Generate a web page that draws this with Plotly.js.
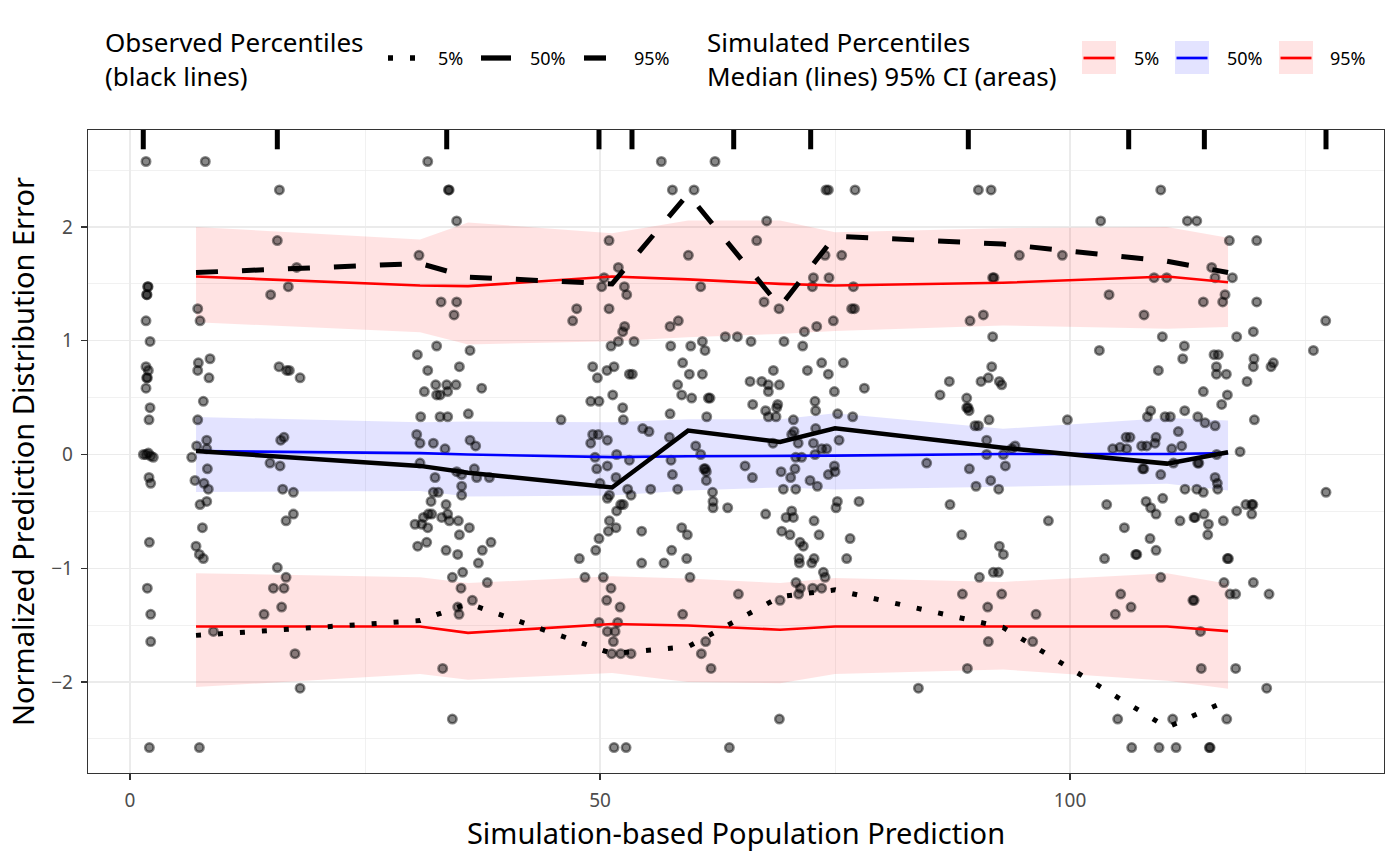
<!DOCTYPE html>
<html><head><meta charset="utf-8">
<script src="https://cdn.plot.ly/plotly-3.0.1.min.js"></script>
<style>html,body{margin:0;padding:0;background:#fff}#chart{width:1400px;height:866px}</style>
</head><body><div id="chart"></div>
<script>
// ---- observed data (npde vs simulation-based population prediction) ----
const obsX = [
 1.70,1.88,1.92,1.77,1.81,1.70,2.13,1.70,1.95,1.77,1.85,1.70,2.13,2.02,
 8.01,7.20,7.45,7.27,8.51,7.20,8.40,7.80,7.20,8.16,7.09,
 15.89,15.67,17.73,16.84,14.96,15.85,16.67,16.95,18.09,16.38,16.03,
 31.67,33.87,33.95,34.75,30.74,33.09,34.75,34.47,30.57,32.62,36.17,31.67,35.04,32.52,33.69,34.68,31.31,32.62,32.98,33.79,37.41,30.92,32.98,33.79,35.99,30.50,30.85,32.27,36.17,36.77,
 56.52,62.23,57.70,60.00,74.04,74.29,77.13,67.73,50.96,66.67,51.95,59.40,73.94,75.71,50.43,50.18,52.59,52.84,60.71,72.70,74.36,72.59,76.95,47.52,47.09,50.96,67.45,69.04,76.77,77.06,
 57.45,58.33,52.62,52.41,51.95,51.17,53.62,57.52,59.65,60.89,61.17,63.33,64.61,66.06,69.57,71.56,71.74,73.05,74.82,
 49.22,49.72,50.74,51.49,53.12,53.44,58.79,59.50,60.89,58.26,58.69,59.75,61.52,61.70,65.96,67.20,67.91,67.91,69.08,68.44,72.06,73.58,74.29,75.89,74.93,78.12,86.17,51.35,
 49.01,49.89,52.41,52.48,45.85,57.45,61.35,66.24,67.62,68.90,68.79,67.91,68.72,70.57,72.87,72.94,75.28,76.88,
 49.22,49.82,50.78,49.01,54.54,55.21,57.38,60.18,70.64,70.39,68.40,71.08,72.94,72.70,75.43,
 90.25,91.60,109.65,103.26,112.48,113.48,116.95,119.86,94.61,99.18,115.07,91.77,91.91,108.94,110.28,115.43,117.27,104.15,116.49,114.18,116.24,119.86,89.36,90.78,107.87,127.20,91.77,109.82,117.73,119.50,
 103.12,112.16,111.99,115.32,115.78,119.57,119.50,121.63,121.38,125.89,91.67,91.31,90.53,92.48,92.73,87.16,109.40,115.57,115.57,116.63,118.83,114.18,116.74,116.13,
 89.01,89.01,89.15,89.26,91.38,89.89,90.25,99.72,108.58,108.23,110.11,110.67,112.20,113.59,114.36,115.43,119.61,91.13,111.52,105.96,106.38,109.15,109.04,107.62,108.16,111.88,
 1.42,1.70,1.95,2.20,2.48,2.02,2.20,2.06,1.84,2.20,2.20,2.06,
 6.56,8.16,8.23,6.91,7.87,8.33,7.45,8.16,7.70,7.02,7.38,7.80,8.87,7.38,
 14.89,15.96,16.24,17.38,16.60,17.38,15.67,16.60,15.25,16.38,16.13,14.26,17.55,18.09,
 33.51,30.85,32.45,34.75,35.28,36.63,36.88,38.23,32.27,32.80,35.28,35.28,32.02,33.62,30.32,31.03,31.21,31.67,31.74,32.09,33.16,33.79,33.97,34.93,36.10,35.04,30.60,31.56,33.62,34.86,37.48,38.40,37.06,35.39,34.29,35.21,38.01,36.42,34.86,35.00,33.26,34.29,
 49.47,51.77,53.12,49.65,50.78,51.70,50.00,52.94,53.30,50.78,51.00,52.20,52.48,51.77,51.00,51.70,50.89,49.89,49.54,47.80,48.40,50.35,51.17,50.71,52.13,49.89,51.88,50.78,51.60,51.42,51.24,52.20,53.30,51.49,52.77,
 55.39,54.43,54.43,56.81,57.62,57.55,57.70,58.26,58.69,59.29,59.22,59.57,58.79,60.78,61.24,61.81,64.72,63.76,
 60.71,61.06,61.20,61.31,61.31,61.97,62.02,62.02,63.58,65.43,66.21,67.62,69.26,69.50,70.82,70.28,70.74,70.82,71.45,72.34,73.12,72.87,73.58,74.11,74.29,75.00,74.93,
 70.39,69.79,70.57,69.33,70.21,71.28,71.63,71.17,71.21,72.52,72.77,72.77,73.30,73.76,73.94,70.85,71.32,71.13,72.62,73.58,69.15,69.08,75.25,75.11,77.55,76.60,76.24,83.87,84.75,
 91.13,92.91,93.79,94.15,89.29,93.12,91.56,90.00,92.41,87.23,88.48,92.48,92.91,97.70,91.84,92.38,90.36,88.55,92.73,91.24,96.38,91.31,96.03,89.08,
 103.90,105.78,103.67,104.54,106.03,105.32,107.73,107.85,109.65,110.82,111.00,113.58,113.70,115.60,115.43,115.67,115.71,112.23,113.48,114.18,108.09,108.58,109.15,109.86,111.70,113.19,113.30,114.26,114.72,114.65,116.31,108.51,109.15,106.99,107.10,116.74,116.85,117.73,118.71,119.33,119.45,119.33,118.09,127.23,
 109.65,105.39,106.49,104.82,116.38,117.02,117.62,119.50,121.17,113.07,113.20,113.88,113.96,117.62,120.92,105.07,110.92,116.67,106.56,109.47,111.28,114.82,114.90
];
const obsY = [
 2.576,1.476,1.476,1.405,1.405,1.175,0.994,0.772,0.739,0.674,0.674,0.583,0.412,0.305,
 2.576,1.282,1.175,0.806,0.842,0.739,0.674,0.468,0.305,0.126,0.075,
 2.326,1.881,1.645,1.476,1.405,0.772,0.739,0.739,0.674,0.151,0.126,
 2.576,2.326,2.326,2.054,1.751,1.341,1.341,1.227,0.878,0.954,0.915,0.739,0.772,0.613,0.613,0.613,0.553,0.524,0.524,0.553,0.583,0.332,0.332,0.332,0.358,0.176,0.100,0.100,0.126,0.075,
 2.576,2.576,2.326,2.326,2.326,2.326,2.326,2.054,1.881,1.881,1.645,1.751,1.751,1.751,1.555,1.476,1.476,1.405,1.476,1.555,1.555,1.476,1.476,1.282,1.175,1.282,1.341,1.282,1.282,1.282,
 1.126,1.175,1.126,1.080,0.994,0.954,0.994,0.954,0.954,0.994,0.915,1.036,1.036,0.994,0.994,0.954,1.080,1.126,1.175,
 0.772,0.674,0.739,0.772,0.706,0.706,0.806,0.706,0.706,0.613,0.524,0.496,0.496,0.496,0.643,0.643,0.613,0.553,0.613,0.739,0.739,0.806,0.706,0.806,0.553,0.583,0.524,0.524,
 0.468,0.468,0.412,0.305,0.305,0.358,0.332,0.440,0.385,0.440,0.412,0.332,0.332,0.305,0.468,0.385,0.358,0.332,
 0.176,0.176,0.126,0.100,0.228,0.202,0.151,0.075,0.202,0.176,0.100,0.100,0.228,0.100,0.126,
 2.326,2.326,2.326,2.054,2.054,2.054,1.881,1.881,1.751,1.751,1.645,1.555,1.555,1.555,1.555,1.555,1.555,1.405,1.405,1.341,1.341,1.341,1.175,1.227,1.227,1.175,1.036,1.036,1.036,1.080,
 0.915,0.954,0.842,0.878,0.878,0.842,0.772,0.806,0.772,0.915,0.772,0.674,0.643,0.643,0.613,0.643,0.739,0.772,0.706,0.706,0.643,0.553,0.524,0.440,
 0.496,0.412,0.412,0.385,0.305,0.253,0.253,0.305,0.385,0.332,0.332,0.332,0.385,0.332,0.279,0.253,0.305,0.126,0.202,0.151,0.151,0.151,0.100,0.075,0.075,0.075,
 0.000,0.000,0.013,-0.013,-0.025,-0.202,-0.253,-0.772,-1.175,-1.405,-1.645,-2.576,
 -0.025,0.050,-0.126,-0.228,-0.253,-0.305,-0.440,-0.412,-0.643,-0.806,-0.878,-0.915,-1.555,-2.576,
 -0.075,-0.100,-0.305,-0.332,-0.583,-0.524,-0.994,-1.080,-1.175,-1.175,-1.341,-1.405,-1.751,-2.054,
 0.050,-0.075,-0.202,-0.151,-0.176,-0.126,-0.202,-0.202,-0.332,-0.332,-0.279,-0.358,-0.412,-0.440,-0.613,-0.613,-0.553,-0.643,-0.524,-0.524,-0.553,-0.524,-0.583,-0.583,-0.643,-0.706,-0.806,-0.772,-0.842,-0.878,-0.842,-0.772,-0.954,-1.036,-1.080,-1.175,-1.126,-1.282,-1.341,-1.405,-1.881,-2.326,
 -0.025,0.000,-0.050,-0.126,-0.100,-0.202,-0.253,-0.305,-0.358,-0.385,-0.358,-0.440,-0.440,-0.496,-0.583,-0.643,-0.674,-0.739,-0.842,-0.915,-1.080,-1.080,-1.175,-1.282,-1.341,-1.476,-1.476,-1.555,-1.555,-1.645,-1.751,-1.751,-1.751,-2.576,-2.576,
 -0.305,-0.674,-0.954,-0.954,-0.842,-0.050,-0.176,-0.305,-0.643,-0.706,-0.915,-1.080,-1.405,-1.751,-1.645,-1.881,-1.227,-2.576,
 0.000,-0.126,-0.126,-0.151,-0.228,-0.332,-0.412,-0.468,-0.468,-0.100,-0.202,-0.524,-0.151,-0.305,-0.305,-0.202,-0.126,-0.025,-0.025,-0.228,-0.279,0.000,0.050,0.050,-0.176,-0.151,-0.100,
 -0.496,-0.553,-0.553,-0.674,-0.706,-0.772,-0.806,-0.915,-0.954,-0.954,-0.915,-0.583,-0.706,-1.036,-1.080,-1.126,-1.175,-1.227,-1.175,-1.175,-1.282,-2.326,-0.412,-0.468,-0.412,-0.739,-0.915,-2.054,-0.075,
 0.000,0.000,0.050,0.075,-0.126,-0.100,-0.228,-0.279,-0.305,-0.440,-0.706,-0.806,-0.878,-0.583,-1.036,-1.036,-1.080,-1.227,-1.227,-1.341,-1.405,-1.645,-1.645,-1.881,
 -0.440,-0.643,-0.915,0.050,0.050,0.063,-0.126,-0.126,-0.176,0.050,-0.075,-0.075,-0.075,0.000,-0.202,-0.253,-0.305,-0.305,-0.305,-0.332,-0.412,-0.468,-0.524,-0.385,-0.583,-0.553,-0.553,-0.524,-0.613,-0.706,-0.583,-0.739,-0.842,-0.878,-0.878,-0.915,-0.915,-0.496,-0.440,-0.440,-0.440,-0.524,0.025,-0.332,
 -1.080,-1.227,-1.341,-1.405,-1.126,-1.227,-1.227,-1.126,-1.227,-1.282,-1.282,-1.555,-1.881,-1.881,-2.054,-2.326,-2.326,-2.326,-2.576,-2.576,-2.576,-2.576,-2.576
];

// ---- bins ----
const binMid = [7.02, 30.85, 35.96, 51.28, 59.36, 69.15, 75.00, 92.87, 110.32, 116.81];
const binEdges = [1.41, 15.67, 33.69, 49.89, 53.40, 64.22, 72.41, 89.18, 106.24, 114.29, 127.23];

// observed percentiles
const obsP05 = [-1.59, -1.46, -1.31, -1.75, -1.69, -1.25, -1.19, -1.52, -2.40, -2.16];
const obsP50 = [0.03, -0.10, -0.16, -0.29, 0.21, 0.11, 0.23, 0.06, -0.08, 0.02];
const obsP95 = [1.60, 1.68, 1.56, 1.50, 2.29, 1.30, 1.92, 1.85, 1.70, 1.60];

// simulated percentiles: median and 95% CI
const sim05Med = [-1.512, -1.512, -1.568, -1.490, -1.503, -1.540, -1.512, -1.512, -1.512, -1.553];
const sim05Lo  = [-2.045, -1.930, -1.980, -1.920, -2.000, -2.010, -1.930, -1.890, -1.990, -2.060];
const sim05Hi  = [-1.043, -1.078, -1.130, -1.070, -1.090, -1.130, -1.085, -1.120, -1.043, -1.137];
const sim50Med = [0.030, 0.012, 0.000, -0.023, -0.015, -0.015, -0.010, 0.005, 0.005, 0.012];
const sim50Lo  = [-0.330, -0.320, -0.370, -0.360, -0.316, -0.290, -0.308, -0.280, -0.258, -0.316];
const sim50Hi  = [0.330, 0.284, 0.290, 0.284, 0.310, 0.310, 0.363, 0.226, 0.320, 0.300];
const sim95Med = [1.565, 1.486, 1.480, 1.565, 1.540, 1.500, 1.486, 1.510, 1.565, 1.515];
const sim95Lo  = [1.163, 1.075, 0.967, 0.996, 1.030, 1.060, 1.085, 1.134, 1.105, 1.120];
const sim95Hi  = [2.000, 1.890, 2.040, 1.945, 2.057, 2.057, 1.955, 1.990, 2.000, 1.905];

const pctLabels = ['5%', '50%', '95%'];
const obsTitle = 'Observed Percentiles<br>(black lines)';
const simTitle = 'Simulated Percentiles<br>Median (lines) 95% CI (areas)';
const xTicks = [0, 50, 100];
const xMinor = [25, 75, 125];
const yTicks = [-2, -1, 0, 1, 2];
const yMinor = [-2.5, -1.5, -0.5, 0.5, 1.5, 2.5];

// ---- styles ----
const RED = '#FF0000', BLUE = '#0000FF';
const PINK = 'rgba(255,0,0,0.11)', LAV = 'rgba(0,0,255,0.11)';
const FONT = 'Noto Sans, Open Sans, DejaVu Sans, sans-serif';
const obsDash = ['5px,17px', 'solid', '22px,24px'];
const simLine = [RED, BLUE, RED];
const simFill = [PINK, LAV, PINK];

function ribbon(lo, hi, fillcolor) {
  return [
    {x: binMid, y: lo, type: 'scatter', mode: 'lines', line: {width: 0}, showlegend: false, hoverinfo: 'skip'},
    {x: binMid, y: hi, type: 'scatter', mode: 'lines', line: {width: 0}, fill: 'tonexty', fillcolor: fillcolor, showlegend: false, hoverinfo: 'skip'}
  ];
}

const traces = [].concat(
  ribbon(sim05Lo, sim05Hi, PINK),
  ribbon(sim50Lo, sim50Hi, LAV),
  ribbon(sim95Lo, sim95Hi, PINK),
  [{
    x: obsX, y: obsY, type: 'scatter', mode: 'markers', showlegend: false,
    marker: {size: 8.5, color: 'rgba(0,0,0,0.47)', line: {color: 'rgba(0,0,0,0.47)', width: 2.5}}
  }],
  [
    {x: binMid, y: sim05Med, type: 'scatter', mode: 'lines', name: 'Sim ' + pctLabels[0], line: {color: RED, width: 2.6}, showlegend: false},
    {x: binMid, y: sim50Med, type: 'scatter', mode: 'lines', name: 'Sim ' + pctLabels[1], line: {color: BLUE, width: 2.6}, showlegend: false},
    {x: binMid, y: sim95Med, type: 'scatter', mode: 'lines', name: 'Sim ' + pctLabels[2], line: {color: RED, width: 2.6}, showlegend: false}
  ],
  [
    {x: binMid, y: obsP05, type: 'scatter', mode: 'lines', name: pctLabels[0], showlegend: false,
     line: {color: '#000', width: 5, dash: obsDash[0]}},
    {x: binMid, y: obsP50, type: 'scatter', mode: 'lines', name: pctLabels[1], showlegend: false,
     line: {color: '#000', width: 4.5, dash: obsDash[1]}},
    {x: binMid, y: obsP95, type: 'scatter', mode: 'lines', name: pctLabels[2], showlegend: false,
     line: {color: '#000', width: 5, dash: obsDash[2]}}
  ]
);

// ---- plot-area geometry (pixels) for placing the legend guides ----
const L = 88, T = 130, W = 1296, H = 643;
const pX = v => (v - L) / W;
const pY = v => (T + H - v) / H;

const rugShapes = binEdges.map(v => ({
  type: 'line', xref: 'x', yref: 'paper', x0: v, x1: v, y0: 1, y1: 0.97,
  line: {color: '#000', width: 5}
}));

// legend guides
const legY = 58;
const obsKeyX0 = [388, 481, 584], obsKeyX1 = [416, 511, 608], obsTextX = [436, 528, 632];
const simBoxX0 = [1082, 1175, 1279], simTextX = [1132, 1225, 1328];
const legendShapes = [];
pctLabels.forEach((lab, i) => {
  legendShapes.push({type: 'line', xref: 'paper', yref: 'paper',
    x0: pX(obsKeyX0[i]), x1: pX(obsKeyX1[i]), y0: pY(legY), y1: pY(legY),
    line: {color: '#000', width: 5.3, dash: obsDash[i]}});
  legendShapes.push({type: 'rect', xref: 'paper', yref: 'paper',
    x0: pX(simBoxX0[i]), x1: pX(simBoxX0[i] + 34), y0: pY(41), y1: pY(74),
    fillcolor: simFill[i], line: {width: 0}});
  legendShapes.push({type: 'line', xref: 'paper', yref: 'paper',
    x0: pX(simBoxX0[i] + 1.5), x1: pX(simBoxX0[i] + 32.5), y0: pY(legY), y1: pY(legY),
    line: {color: simLine[i], width: 2.7}});
});

const legendText = [];
function txt(text, x, y, size) {
  legendText.push({text: text, xref: 'paper', yref: 'paper', x: pX(x), y: pY(y),
    xanchor: 'left', yanchor: 'middle', align: 'left', showarrow: false,
    font: {family: FONT, size: size, color: '#000'}});
}
txt(obsTitle, 103, 58.5, 26);
txt(simTitle, 705, 58.5, 26);
pctLabels.forEach((lab, i) => { txt(lab, obsTextX[i], legY, 18); txt(lab, simTextX[i], legY, 18); });

const axisCommon = {
  showgrid: true, gridcolor: '#EBEBEB', gridwidth: 1.4, zeroline: false,
  showline: true, mirror: true, linecolor: '#333333', linewidth: 1.3,
  ticks: 'outside', ticklen: 6, tickwidth: 1.3, tickcolor: '#333333',
  ticklabelstandoff: 4,
  tickfont: {size: 19, color: '#4D4D4D', family: FONT}
};

const layout = {
  width: 1400, height: 866, showlegend: false,
  margin: {l: L, r: 1400 - L - W, t: T, b: 866 - T - H, autoexpand: false},
  paper_bgcolor: '#FFFFFF', plot_bgcolor: '#FFFFFF',
  font: {family: FONT, color: '#000'},
  xaxis: Object.assign({}, axisCommon, {
    range: [-4.47, 133.4], tickmode: 'array', tickvals: xTicks,
    minor: {tickvals: xMinor, showgrid: true, gridcolor: '#EBEBEB', gridwidth: 0.7, ticks: ''},
    title: {text: 'Simulation-based Population Prediction', font: {size: 29, family: FONT, color: '#000'}, standoff: 5}
  }),
  yaxis: Object.assign({}, axisCommon, {
    range: [-2.80, 2.853], tickmode: 'array', tickvals: yTicks,
    minor: {tickvals: yMinor, showgrid: true, gridcolor: '#EBEBEB', gridwidth: 0.7, ticks: ''},
    title: {text: 'Normalized Prediction Distribution Error', font: {size: 29, family: FONT, color: '#000'}, standoff: 8}
  }),
  shapes: rugShapes.concat(legendShapes),
  annotations: legendText
};

Plotly.newPlot('chart', traces, layout, {displayModeBar: false, staticPlot: true});
</script>
</body></html>
